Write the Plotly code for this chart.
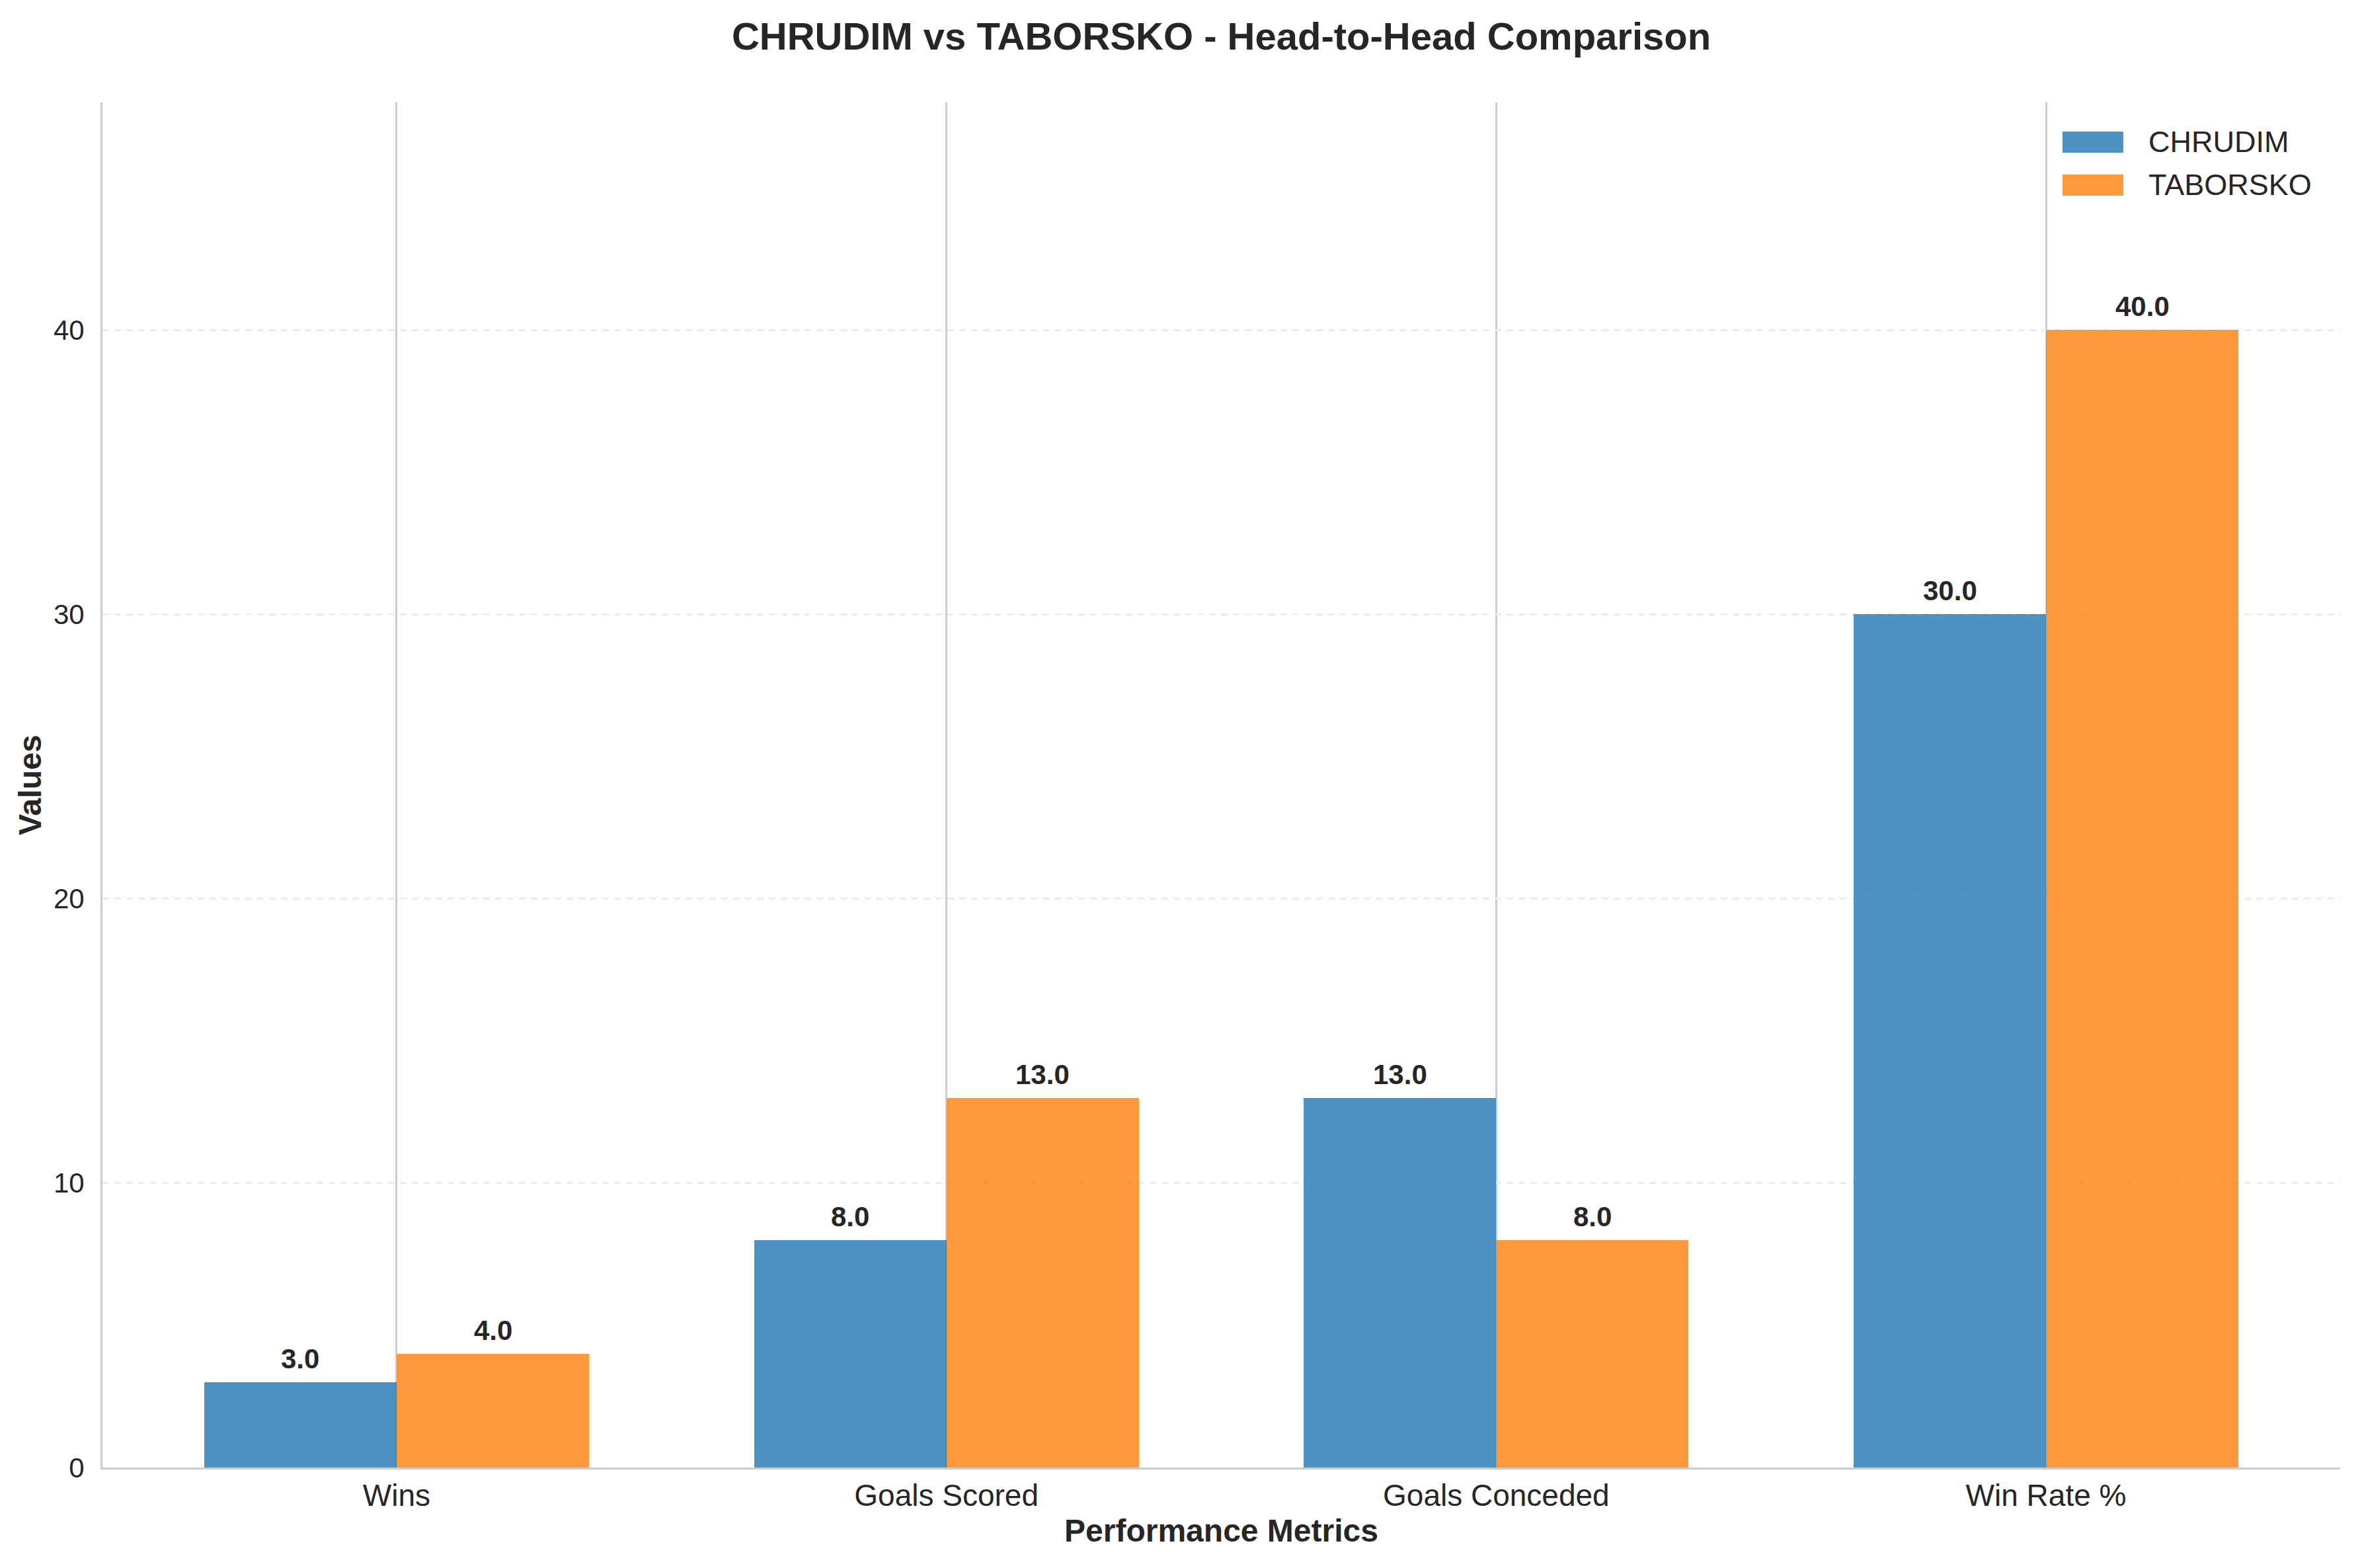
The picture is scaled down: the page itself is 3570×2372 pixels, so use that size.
import plotly.graph_objects as go

categories = ["Wins", "Goals Scored", "Goals Conceded", "Win Rate %"]
chrudim = [3.0, 8.0, 13.0, 30.0]
taborsko = [4.0, 13.0, 8.0, 40.0]
team_names = ["CHRUDIM", "TABORSKO"]
y_ticks = [0, 10, 20, 30, 40]

W, H = 3570, 2372
L, R, T, B = 155, 30, 155, 152
bar_w = 0.35
colors = ["rgba(31,119,180,0.8)", "rgba(255,127,14,0.8)"]
FONT = "Liberation Sans, Arial, sans-serif"
DARK = "#262626"

idx = list(range(len(categories)))
fig = go.Figure()
series = [chrudim, taborsko]
offsets = [-bar_w / 2, bar_w / 2]
for name, vals, off, col in zip(team_names, series, offsets, colors):
    fig.add_trace(go.Bar(
        x=[i + off for i in idx], y=vals, width=bar_w, name=name,
        marker=dict(color=col, line=dict(width=0)), showlegend=False,
    ))
    for i, v in zip(idx, vals):
        fig.add_annotation(x=i + off, y=v, text=f"<b>{v:.1f}</b>", showarrow=False,
                           yanchor="bottom", yshift=10, font=dict(size=42, color=DARK, family=FONT))

# custom legend
pw, ph = W - L - R, H - T - B
def px_x(p):
    return (p - L) / pw
def px_y(p):
    return (H - B - p) / ph
for k, (name, col) in enumerate(zip(team_names, colors)):
    cy = 215 + k * 65
    fig.add_shape(type="rect", xref="paper", yref="paper",
                  x0=px_x(3120), x1=px_x(3212), y0=px_y(cy + 16), y1=px_y(cy - 16),
                  fillcolor=col, line=dict(width=0))
    fig.add_annotation(xref="paper", yref="paper", x=px_x(3248), y=px_y(cy),
                       text=name, showarrow=False, xanchor="left", yanchor="middle",
                       font=dict(size=45, color=DARK, family=FONT))

fig.update_layout(
    width=W, height=H,
    margin=dict(l=L, r=R, t=T, b=B, autoexpand=False),
    paper_bgcolor="white", plot_bgcolor="white",
    bargap=0, barmode="overlay",
    font=dict(family=FONT, color=DARK),
    title=dict(text="<b>CHRUDIM vs TABORSKO - Head-to-Head Comparison</b>",
               x=0.5, xref="paper", y=1 - 55 / H, yref="container",
               xanchor="center", yanchor="middle",
               font=dict(size=58, color=DARK, family=FONT)),
    xaxis=dict(range=[-0.535, 3.535], tickvals=idx, ticktext=categories,
               showgrid=True, gridcolor="#cccccc", gridwidth=2.5,
               showline=True, linecolor="#cccccc", linewidth=3,
               ticks="", tickfont=dict(size=46, color=DARK), ticklabelstandoff=0,
               zeroline=False,
               title=dict(text="<b>Performance Metrics</b>", standoff=12,
                          font=dict(size=48, color=DARK))),
    yaxis=dict(range=[0, 48], tickvals=y_ticks,
               showgrid=True, gridcolor="#ececec", gridwidth=2.5, griddash="10px,8px",
               showline=True, linecolor="#cccccc", linewidth=3,
               ticks="", tickfont=dict(size=42, color=DARK), ticklabelstandoff=16,
               zeroline=False,
               title=dict(text="<b>Values</b>", standoff=4,
                          font=dict(size=48, color=DARK))),
)

fig.write_html("out.html")
